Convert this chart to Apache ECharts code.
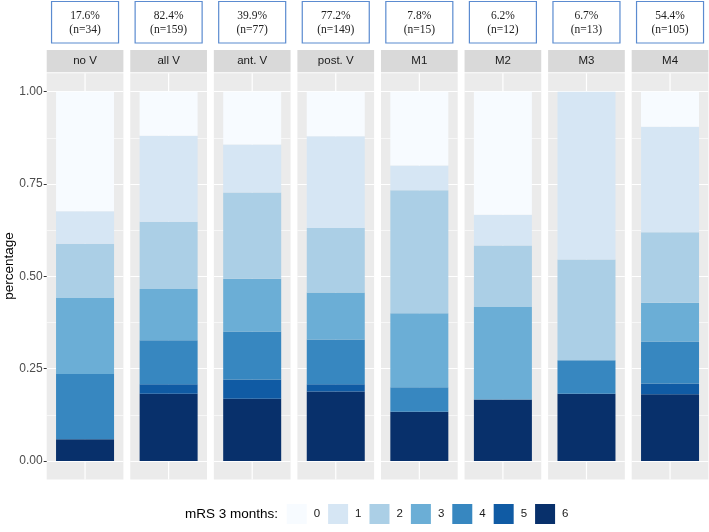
<!DOCTYPE html>
<html><head><meta charset="utf-8">
<script src="https://cdn.jsdelivr.net/npm/echarts@6/dist/echarts.min.js"></script>
<style>html,body{margin:0;padding:0;background:#fff}#c{width:709px;height:532px}</style>
</head><body><div id="c"></div>
<script>
// ---- data ----
const groups   = ['no V','all V','ant. V','post. V','M1','M2','M3','M4'];
const groupPct = ['17.6%','82.4%','39.9%','77.2%','7.8%','6.2%','6.7%','54.4%'];
const groupN   = ['(n=34)','(n=159)','(n=77)','(n=149)','(n=15)','(n=12)','(n=13)','(n=105)'];
const mrsLevels = ['0','1','2','3','4','5','6'];
// share of patients per mRS level, one value per group (same order as groups)
const mrs0 = [0.3235,0.1195,0.1429,0.1208,0.2000,0.3333,0.0000,0.0952];
const mrs1 = [0.0882,0.2326,0.1299,0.2483,0.0667,0.0833,0.4546,0.2856];
const mrs2 = [0.1471,0.1824,0.2338,0.1745,0.3333,0.1667,0.2727,0.1905];
const mrs3 = [0.2059,0.1384,0.1429,0.1275,0.2000,0.2500,0.0000,0.1048];
const mrs4 = [0.1765,0.1195,0.1299,0.1208,0.0667,0.0000,0.0909,0.1143];
const mrs5 = [0.0000,0.0252,0.0519,0.0201,0.0000,0.0000,0.0000,0.0286];
const mrs6 = [0.0588,0.1824,0.1687,0.1880,0.1333,0.1667,0.1818,0.1810];
const levelValues = [mrs0, mrs1, mrs2, mrs3, mrs4, mrs5, mrs6];
const levelColors = ['#F7FBFF','#D6E6F4','#ABCFE6','#6BAED6','#3787C0','#105BA4','#08306B'];

// ---- layout ----
const FONT = 'Liberation Sans, Arial, Helvetica, sans-serif';
const P0 = 46.7, PITCH = 83.57, PW = 76.7;
const DATA_TOP = 91.7, DATA_H = 369.3;
const PANEL_TOP = 73.2, PANEL_BOT = 479.5;
const STRIP_TOP = 50, STRIP_H = 22.3;

const grids = [], xAxes = [], yAxes = [], series = [], graphics = [];
groups.forEach((g, i) => {
  const L = P0 + i * PITCH;
  const cx = L + PW / 2;
  grids.push({left: L, top: DATA_TOP, width: PW, height: DATA_H, containLabel: false});
  xAxes.push({type: 'category', gridIndex: i, data: [g], show: false, boundaryGap: true});
  yAxes.push({
    type: 'value', gridIndex: i, min: 0, max: 1, interval: 0.25, splitNumber: 4,
    axisLine: {show: false},
    axisTick: {show: i === 0, length: 3, lineStyle: {color: '#333333', width: 1}},
    axisLabel: {show: i === 0, margin: 4, color: '#4D4D4D', fontSize: 12, fontFamily: FONT,
                formatter: v => v.toFixed(2)},
    splitLine: {show: true, lineStyle: {color: '#FFFFFF', width: 1.2}},
    minorTick: {show: false, splitNumber: 2},
    minorSplitLine: {show: true, lineStyle: {color: '#FFFFFF', width: 0.6}}
  });
  // panel background + vertical major grid line
  graphics.push({type: 'rect', z: -10, shape: {x: L, y: PANEL_TOP, width: PW, height: PANEL_BOT - PANEL_TOP},
                 style: {fill: '#EBEBEB'}, silent: true});
  graphics.push({type: 'line', z: -9, shape: {x1: cx, y1: PANEL_TOP, x2: cx, y2: PANEL_BOT},
                 style: {stroke: '#FFFFFF', lineWidth: 1.2}, silent: true});
  // strip
  graphics.push({type: 'rect', z: -10, shape: {x: L, y: STRIP_TOP, width: PW, height: STRIP_H},
                 style: {fill: '#D9D9D9'}, silent: true});
  graphics.push({type: 'text', x: cx, y: STRIP_TOP + STRIP_H / 2, silent: true,
                 style: {text: g, fill: '#1A1A1A', font: '11.5px ' + FONT, align: 'center', verticalAlign: 'middle'}});
  // annotation box
  graphics.push({type: 'rect', shape: {x: cx - 33.5, y: 1.5, width: 67, height: 41.5},
                 style: {fill: '#FFFFFF', stroke: '#5B8BD0', lineWidth: 1.2}, silent: true});
  graphics.push({type: 'text', x: cx, y: 22.5, silent: true,
                 style: {text: groupPct[i] + '\n' + groupN[i], fill: '#222222', lineHeight: 14,
                         font: '11.5px Liberation Serif, Times New Roman, serif', align: 'center', verticalAlign: 'middle'}});
});

// stacked bars: level 6 at bottom ... level 0 at top
for (let k = mrsLevels.length - 1; k >= 0; k--) {
  groups.forEach((g, i) => {
    series.push({
      type: 'bar', name: mrsLevels[k], stack: 'g' + i, xAxisIndex: i, yAxisIndex: i,
      data: [levelValues[k][i]], barWidth: 58, silent: true,
      itemStyle: {color: levelColors[k]}
    });
  });
}

graphics.push({type: 'text', x: 9, y: 266, rotation: Math.PI / 2, silent: true,
               style: {text: 'percentage', fill: '#000000', font: '13.5px ' + FONT, align: 'center', verticalAlign: 'middle'}});
graphics.push({type: 'text', x: 185, y: 514, silent: true,
               style: {text: 'mRS 3 months:', fill: '#000000', font: '13.5px ' + FONT, align: 'left', verticalAlign: 'middle'}});

const chart = echarts.init(document.getElementById('c'), null, {renderer: 'canvas'});
chart.setOption({
  animation: false,
  backgroundColor: '#FFFFFF',
  textStyle: {fontFamily: FONT},
  grid: grids, xAxis: xAxes, yAxis: yAxes, series: series,
  legend: {
    data: mrsLevels, left: 286.7, top: 504, orient: 'horizontal', icon: 'rect', padding: 0,
    itemWidth: 20, itemHeight: 20, itemGap: 8, selectedMode: false,
    textStyle: {fontSize: 11.5, color: '#1A1A1A', fontFamily: FONT, padding: [0, 0, 0, 2]}
  },
  graphic: graphics
});
</script></body></html>
